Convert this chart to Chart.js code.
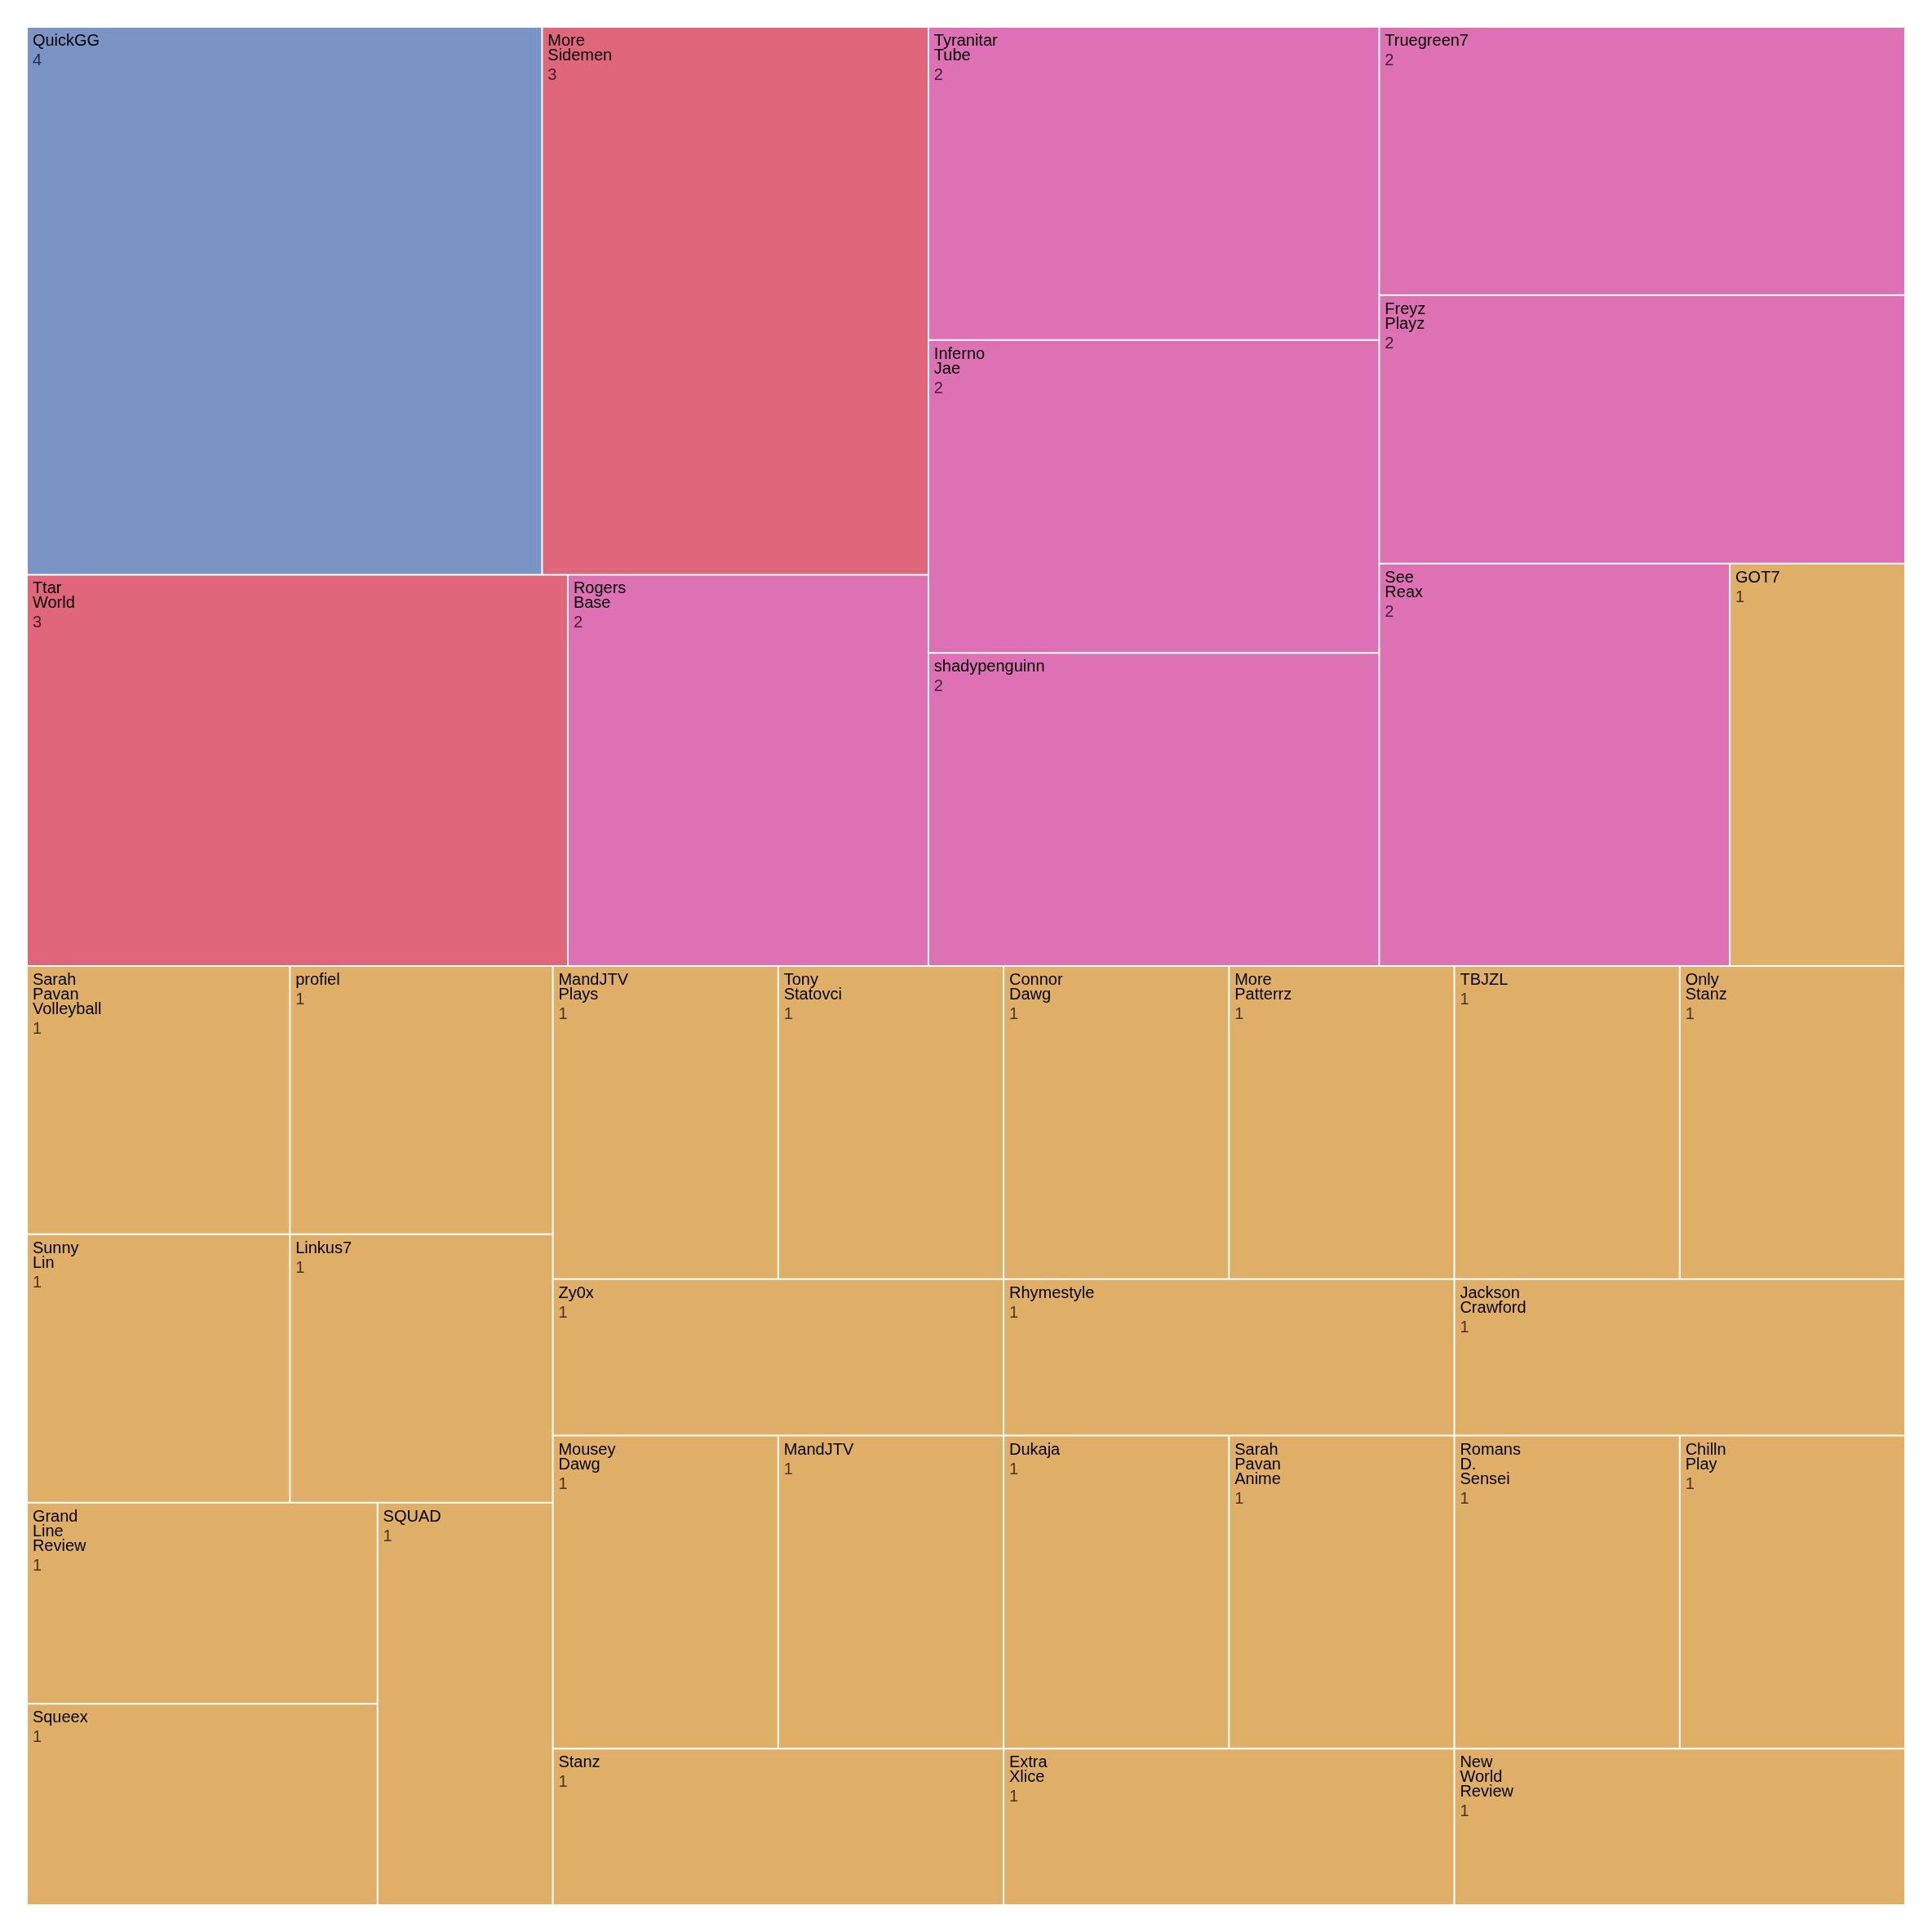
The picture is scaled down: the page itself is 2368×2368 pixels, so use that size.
<!DOCTYPE html>
<html>
<head>
<meta charset="utf-8">
<script src="https://cdn.jsdelivr.net/npm/chart.js"></script>
<style>
  html, body { margin: 0; padding: 0; background: #ffffff; }
  #wrap { width: 2368px; height: 2368px; }
</style>
</head>
<body>
<div id="wrap"><canvas id="c" width="2368" height="2368"></canvas></div>
<script>
// ---------------- DATA ----------------
const channels = [
  "QuickGG", "More Sidemen", "Ttar World", "Rogers Base", "Tyranitar Tube", "Inferno Jae",
  "shadypenguinn", "Truegreen7", "Freyz Playz", "See Reax", "GOT7",
  "Sarah Pavan Volleyball", "profiel", "Sunny Lin", "Linkus7", "Grand Line Review", "Squeex", "SQUAD",
  "MandJTV Plays", "Tony Statovci", "Zy0x", "Mousey Dawg", "MandJTV", "Stanz",
  "Connor Dawg", "More Patterrz", "Rhymestyle", "TBJZL", "Only Stanz", "Jackson Crawford",
  "Dukaja", "Sarah Pavan Anime", "Extra Xlice", "Romans D. Sensei", "Chilln Play", "New World Review"
];
const counts = [
  4, 3, 3, 2, 2, 2, 2, 2, 2, 2, 1,
  1, 1, 1, 1, 1, 1, 1,
  1, 1, 1, 1, 1, 1,
  1, 1, 1, 1, 1, 1,
  1, 1, 1, 1, 1, 1
];
// tiling groups (hidden intermediate level of the hierarchy)
const tileGroups = [
  "A", "A", "A", "A", "A", "A", "A", "A", "A", "A", "A",
  "B1", "B1", "B1", "B1", "B1", "B1", "B1",
  "B2", "B2", "B2", "B2", "B2", "B2",
  "B3", "B3", "B3", "B3", "B3", "B3",
  "B4", "B4", "B4", "B4", "B4", "B4"
];

// ---------------- STYLE ----------------
const palette = { 4: "#7B94C6", 3: "#E0677B", 2: "#DD71B4", 1: "#E0AF67" };
const FONT_PX = 20;
const FONT = FONT_PX + 'px "Liberation Sans", Arial, sans-serif';

// ---------------- LAYOUT (d3 treemapBinary) ----------------
function binaryTile(nodes, x0, y0, x1, y1) {
  const sums = [0];
  let s = 0;
  for (const nd of nodes) sums.push(s += nd.value);
  function partition(i, j, value, x0, y0, x1, y1) {
    if (i >= j - 1) { Object.assign(nodes[i], { x0, y0, x1, y1 }); return; }
    const off = sums[i], target = value / 2 + off;
    let k = i + 1, hi = j - 1;
    while (k < hi) { const mid = (k + hi) >>> 1; if (sums[mid] < target) k = mid + 1; else hi = mid; }
    if ((target - sums[k - 1]) < (sums[k] - target) && i + 1 < k) --k;
    const vl = sums[k] - off, vr = value - vl;
    if ((x1 - x0) > (y1 - y0)) {
      const xk = value ? (x0 * vr + x1 * vl) / value : x1;
      partition(i, k, vl, x0, y0, xk, y1);
      partition(k, j, vr, xk, y0, x1, y1);
    } else {
      const yk = value ? (y0 * vr + y1 * vl) / value : y1;
      partition(i, k, vl, x0, y0, x1, yk);
      partition(k, j, vr, x0, yk, x1, y1);
    }
  }
  partition(0, nodes.length, s, x0, y0, x1, y1);
}

const EXTENT = 100;
function buildCells() {
  const groupMap = new Map();
  channels.forEach((name, i) => {
    const g = tileGroups[i];
    if (!groupMap.has(g)) groupMap.set(g, { key: g, value: 0, children: [] });
    const grp = groupMap.get(g);
    grp.children.push({ name, value: counts[i], index: i });
    grp.value += counts[i];
  });
  const groups = Array.from(groupMap.values());
  groups.sort((a, b) => b.value - a.value);
  binaryTile(groups, 0, 0, EXTENT, EXTENT);
  const cells = [];
  for (const g of groups) {
    g.children.sort((a, b) => b.value - a.value);
    binaryTile(g.children, g.x0, g.y0, g.x1, g.y1);
    for (const c of g.children) cells.push(c);
  }
  cells.sort((a, b) => a.index - b.index);
  return cells.map(c => ({
    x: (c.x0 + c.x1) / 2, y: (c.y0 + c.y1) / 2,
    x0: c.x0, x1: c.x1, y0: c.y0, y1: c.y1,
    name: c.name, v: c.value
  }));
}

// ---------------- CHART.JS CONTROLLER ----------------
class TreemapController extends Chart.DatasetController {
  update(mode) {
    const meta = this._cachedMeta;
    this.updateElements(meta.data, 0, meta.data.length, mode);
  }
  updateElements(rects, start, count, mode) {
    const meta = this._cachedMeta;
    const xs = meta.xScale, ys = meta.yScale;
    const data = this.getDataset().data;
    for (let i = start; i < start + count; i++) {
      const d = data[i];
      const left = xs.getPixelForValue(d.x0), right = xs.getPixelForValue(d.x1);
      const top = ys.getPixelForValue(d.y0), bottom = ys.getPixelForValue(d.y1);
      const props = {
        x: (left + right) / 2, y: top, base: bottom,
        width: right - left, height: bottom - top,
        horizontal: false, borderSkipped: {}, inflateAmount: 0,
        options: this.resolveDataElementOptions(i, mode)
      };
      this.updateElement(rects[i], i, props, mode);
    }
  }
}
TreemapController.id = 'treemap';
TreemapController.defaults = { dataElementType: 'bar', datasetElementType: false };
TreemapController.overrides = {
  scales: { x: { type: 'linear' }, y: { type: 'linear' } }
};
Chart.register(TreemapController);

// labels plugin
const labelPlugin = {
  id: 'treemapLabels',
  afterDatasetsDraw(chart) {
    const ctx = chart.ctx;
    const meta = chart.getDatasetMeta(0);
    const data = chart.data.datasets[0].data;
    const xs = chart.scales.x, ys = chart.scales.y;
    ctx.save();
    ctx.font = FONT;
    ctx.textAlign = 'left';
    ctx.textBaseline = 'alphabetic';
    meta.data.forEach((el, i) => {
      const d = data[i];
      const bw = 1;
      const left = xs.getPixelForValue(d.x0) + bw, right = xs.getPixelForValue(d.x1) - bw;
      const top = ys.getPixelForValue(d.y0) + bw, bottom = ys.getPixelForValue(d.y1) - bw;
      const lines = d.name.split(/(?=[A-Z][a-z])|\s+/g);
      lines.push(String(d.v));
      ctx.save();
      ctx.beginPath();
      ctx.rect(left, top, right - left, bottom - top);
      ctx.clip();
      lines.forEach((t, k) => {
        const isVal = k === lines.length - 1;
        const em = (isVal ? 0.3 : 0) + 1.1 + k * 0.9;
        ctx.fillStyle = isVal ? 'rgba(0,0,0,0.7)' : '#000000';
        ctx.fillText(t, left + 5.9, top + em * FONT_PX);
      });
      ctx.restore();
    });
    ctx.restore();
  }
};

const cells = buildCells();

new Chart(document.getElementById('c'), {
  type: 'treemap',
  data: {
    datasets: [{
      label: 'channels',
      data: cells,
      backgroundColor: (c) => palette[counts[c.dataIndex]] || '#ccc',
      borderColor: '#ffffff',
      borderWidth: 1
    }]
  },
  options: {
    responsive: false,
    devicePixelRatio: 1,
    animation: false,
    events: [],
    layout: { padding: 33 },
    scales: {
      x: { type: 'linear', min: 0, max: EXTENT, display: false },
      y: { type: 'linear', min: 0, max: EXTENT, display: false, reverse: true }
    },
    plugins: { legend: { display: false }, tooltip: { enabled: false } }
  },
  plugins: [labelPlugin]
});
</script>
</body>
</html>
